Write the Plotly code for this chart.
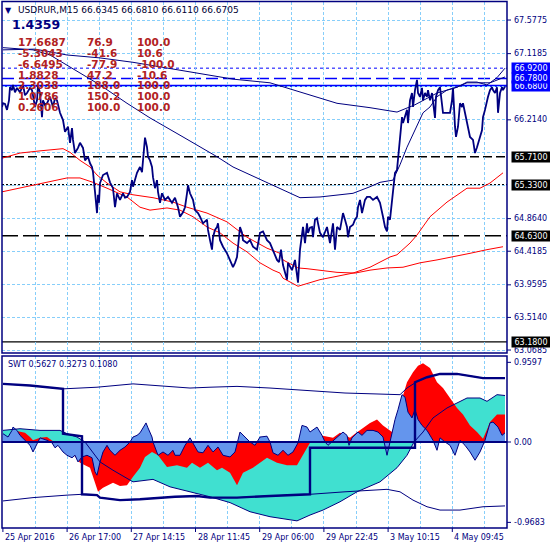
import plotly.graph_objects as go

W = H = 550
FONT = "DejaVu Sans"
NAVY = "#000080"

# ------------------------------------------------------------------ data
# main pane: close price (bar index -> price)
PRICE_BAR = [2, 3, 5, 7, 9, 10, 12, 13, 15, 17,
             20, 23, 25, 27, 30, 32, 35, 37, 38, 40,
             42, 43, 45, 47, 50, 53, 55, 57, 60, 63,
             65, 68, 70, 72, 73, 75, 78, 80, 83, 85,
             88, 90, 92, 93, 95, 97, 98, 99, 100, 103,
             107, 110, 113, 115, 117, 120, 123, 125, 127, 130,
             132, 133, 137, 140, 142, 143, 145, 147, 148, 150,
             152, 153, 155, 157, 158, 160, 162, 165, 168, 172,
             175, 178, 180, 183, 185, 187, 188, 190, 193, 195,
             198, 200, 203, 207, 208, 210, 212, 213, 215, 217,
             218, 220, 223, 227, 230, 233, 235, 237, 240, 242,
             243, 247, 250, 253, 257, 260, 263, 267, 270, 273,
             277, 279, 281, 283, 287, 288, 292, 295, 297, 298,
             300, 302, 303, 305, 307, 308, 310, 312, 313, 315,
             317, 318, 320, 323, 327, 330, 333, 335, 337, 340,
             343, 345, 347, 348, 350, 353, 355, 357, 358, 360,
             362, 365, 367, 370, 373, 377, 380, 383, 385, 387,
             388, 390, 392, 394, 395, 397, 398, 400, 402, 403,
             405, 407, 408, 410, 412, 413, 415, 417, 418, 420,
             422, 423, 425, 427, 428, 430, 432, 433, 435, 436,
             438, 440, 442, 443, 450, 452, 453, 454, 455, 456,
             458, 460, 462, 463, 465, 467, 468, 470, 473, 475,
             477, 478, 480, 482, 483, 485, 487, 488, 490, 492,
             493, 495, 497, 498, 500, 502, 503, 505]
PRICE_CLOSE = [66.39, 66.44, 66.43, 66.35, 66.48, 66.66, 66.62, 66.69, 66.59, 66.65,
               66.59, 66.69, 66.55, 66.58, 66.65, 66.62, 66.39, 66.48, 66.69, 66.58,
               66.25, 66.48, 66.42, 66.44, 66.53, 66.39, 66.51, 66.48, 66.31, 66.21,
               66.05, 66.12, 65.90, 66.10, 65.94, 65.76, 65.83, 65.90, 65.83, 65.66,
               65.71, 65.62, 65.57, 65.50, 65.23, 64.94, 65.19, 65.08, 65.35, 65.46,
               65.49, 65.36, 65.28, 65.02, 65.21, 65.12, 65.21, 65.15, 65.16, 65.23,
               65.39, 65.30, 65.49, 65.57, 65.50, 65.66, 65.97, 65.84, 65.71, 65.66,
               65.57, 65.43, 65.28, 65.39, 65.23, 65.08, 65.21, 65.12, 65.16, 65.08,
               65.15, 65.02, 64.89, 64.95, 65.02, 65.21, 65.32, 65.21, 65.12, 64.98,
               64.94, 64.89, 64.80, 64.85, 64.71, 64.57, 64.44, 64.61, 64.71, 64.75,
               64.80, 64.57, 64.48, 64.39, 64.30, 64.20, 64.26, 64.34, 64.75, 64.67,
               64.57, 64.53, 64.57, 64.48, 64.44, 64.67, 64.69, 64.57, 64.53, 64.44,
               64.30, 64.27, 64.44, 64.23, 64.03, 64.26, 64.16, 64.30, 64.03, 63.99,
               64.44, 64.67, 64.75, 64.53, 64.80, 64.67, 64.74, 64.75, 64.61, 64.85,
               64.87, 64.80, 64.67, 64.61, 64.75, 64.53, 64.80, 64.44, 64.75, 64.71,
               64.94, 64.85, 64.75, 64.61, 64.75, 64.78, 64.85, 64.89, 65.02, 65.12,
               64.94, 65.12, 65.16, 65.16, 65.12, 65.16, 65.08, 64.89, 64.75, 64.69,
               64.89, 64.85, 65.12, 65.30, 65.49, 65.53, 65.66, 65.90, 66.25, 66.17,
               66.25, 66.35, 66.17, 66.48, 66.58, 66.39, 66.62, 66.76, 66.58, 66.53,
               66.65, 66.48, 66.58, 66.53, 66.62, 66.48, 66.58, 66.44, 66.24, 66.53,
               66.62, 66.66, 66.35, 66.31, 66.31, 66.48, 66.65, 66.35, 66.12, 65.98,
               66.12, 66.44, 66.39, 66.44, 66.31, 66.21, 66.12, 65.98, 65.94, 65.76,
               65.84, 65.90, 65.98, 66.07, 66.25, 66.35, 66.48, 66.53, 66.62, 66.66,
               66.62, 66.58, 66.66, 66.31, 66.58, 66.66, 66.62, 66.67]

MA_SLOW_BAR = [3, 35, 67, 100, 133, 167, 200, 233, 270, 303, 337, 370, 397, 415, 437, 457, 467, 480, 490, 505]
MA_SLOW = [67.17, 67.18, 67.10, 67.06, 67.00, 66.92, 66.84, 66.77, 66.72, 66.58,
           66.44, 66.38, 66.32, 66.42, 66.58, 66.66, 66.72, 66.72, 66.72, 66.80]

MA_MID_BAR = [3, 33, 50, 67, 100, 127, 150, 183, 217, 233, 267, 280, 300, 320, 353, 370,
              380, 393, 400, 407, 417, 423, 430, 437, 447, 457, 467, 477, 487, 497, 505]
MA_MID = [67.20, 67.17, 67.10, 66.96, 66.69, 66.44, 66.24, 65.98, 65.71, 65.57, 65.36, 65.28,
          65.15, 65.16, 65.21, 65.30, 65.36, 65.39, 65.60, 65.84, 66.12, 66.31, 66.39, 66.53,
          66.62, 66.66, 66.73, 66.73, 66.69, 66.79, 66.92]

RED_A_BAR = [2, 20, 40, 63, 70, 80, 90, 97, 107, 120,
             133, 153, 173, 187, 207, 227, 247, 267, 280, 283,
             298, 307, 337, 355, 370, 387, 403, 420, 437, 453,
             470, 487, 503]
RED_A = [65.69, 65.76, 65.79, 65.82, 65.77, 65.66, 65.57, 65.46, 65.35, 65.23,
         65.19, 65.15, 65.09, 65.02, 64.94, 64.82, 64.61, 64.46, 64.39, 64.30,
         64.19, 64.18, 64.13, 64.12, 64.16, 64.19, 64.20, 64.26, 64.30, 64.34,
         64.39, 64.44, 64.48]

RED_B_BAR = [2, 33, 67, 80, 93, 107, 127, 140, 150, 167,
             180, 193, 207, 220, 233, 247, 260, 273, 280, 283,
             298, 320, 353, 370, 390, 397, 410, 417, 430, 447,
             457, 467, 480, 490, 503]
RED_B = [65.23, 65.32, 65.42, 65.42, 65.36, 65.28, 65.16, 65.02, 64.98, 65.01,
         64.98, 64.89, 64.75, 64.67, 64.53, 64.41, 64.26, 64.16, 64.12, 64.05,
         63.94, 64.03, 64.12, 64.20, 64.34, 64.37, 64.53, 64.64, 64.89, 65.09,
         65.19, 65.28, 65.28, 65.35, 65.49]

LEVELS = [66.92, 66.78, 66.68, 65.71, 65.33, 64.63, 63.18]
BID = 66.6705
Y_GRID = [67.5775, 67.1185, 66.6660, 66.2140, 65.7640, 65.3140, 64.8640, 64.4185, 63.9595, 63.5140, 63.0685]
Y_LABELS = [67.5775, 67.1185, 66.2140, 64.8640, 64.4185, 63.9595, 63.5140, 63.0685]

# lower pane: SWT indicator
SIG_BAR = [3, 20, 40, 60, 67, 77, 85, 100, 113, 130,
           133, 153, 170, 190, 210, 230, 250, 270, 297, 310,
           323, 340, 357, 380, 397, 407, 414, 423, 433, 447,
           457, 467, 480, 487, 497, 505]
SIG = [0.14, 0.16, 0.14, 0.14, 0.10, 0.06, 0.00, -0.24, -0.34, -0.46,
       -0.48, -0.45, -0.54, -0.60, -0.66, -0.73, -0.84, -0.90, -0.95, -0.88,
       -0.82, -0.72, -0.60, -0.48, -0.31, -0.16, 0.00, 0.12, 0.29, 0.41,
       0.47, 0.53, 0.53, 0.49, 0.57, 0.56]

RED_BAR = [3, 15, 18, 25, 30, 33, 40, 47, 53, 60,
           70, 75, 80, 90, 95, 98, 103, 113, 120, 127,
           133, 140, 145, 152, 158, 167, 177, 187, 192, 200,
           208, 217, 222, 230, 237, 243, 253, 267, 277, 287,
           297, 303, 310, 320, 327, 333, 340, 350, 355, 360,
           370, 377, 383, 392, 397, 402, 407, 413, 418, 423,
           430, 437, 443, 450, 457, 463, 470, 477, 483, 487,
           490, 497, 505]
RED_V = [0.0, 0.06, 0.13, 0.11, 0.06, 0.02, 0.05, 0.06, 0.01, -0.04,
         -0.10, -0.18, -0.25, -0.31, -0.49, -0.60, -0.55, -0.49, -0.53, -0.52,
         -0.42, -0.31, -0.18, -0.12, -0.16, -0.30, -0.28, -0.31, -0.25, -0.31,
         -0.25, -0.34, -0.31, -0.37, -0.52, -0.37, -0.31, -0.19, -0.25, -0.28,
         -0.28, -0.16, -0.01, 0.08, 0.06, 0.05, 0.11, 0.05, 0.10, 0.14,
         0.23, 0.27, 0.20, 0.12, 0.33, 0.53, 0.72, 0.84, 0.92, 0.95,
         0.89, 0.72, 0.65, 0.53, 0.41, 0.33, 0.20, 0.12, 0.04, 0.15,
         0.24, 0.33, 0.33]

BLUE_BAR = [3, 8, 12, 13, 17, 20, 25, 30, 33, 37,
            40, 47, 52, 55, 58, 63, 67, 72, 75, 78,
            82, 87, 92, 95, 97, 100, 103, 107, 110, 115,
            120, 125, 130, 133, 137, 140, 143, 146, 148, 152,
            153, 158, 163, 168, 173, 175, 180, 185, 190, 193,
            198, 203, 208, 213, 218, 223, 230, 235, 240, 245,
            250, 255, 260, 267, 270, 273, 278, 283, 288, 293,
            298, 302, 307, 310, 317, 322, 325, 328, 333, 338,
            343, 347, 349, 352, 358, 362, 367, 373, 378, 383,
            387, 390, 395, 398, 402, 405, 408, 412, 415, 418,
            422, 427, 433, 437, 440, 445, 450, 455, 460, 465,
            470, 475, 480, 485, 490, 493, 498, 502, 505]
BLUE_V = [0.10, 0.06, 0.14, 0.18, 0.14, 0.08, 0.02, -0.04, -0.12, -0.01,
          0.05, 0.02, -0.01, -0.07, -0.04, -0.12, -0.16, -0.19, -0.16, -0.24,
          -0.18, -0.16, -0.19, -0.36, -0.40, -0.24, -0.12, -0.04, -0.10, -0.16,
          -0.10, -0.06, 0.00, 0.06, 0.08, 0.11, 0.17, 0.23, 0.17, 0.06,
          0.00, -0.16, -0.12, -0.16, -0.10, -0.16, -0.16, -0.04, 0.05, -0.01,
          -0.12, -0.13, -0.04, -0.12, -0.06, -0.16, -0.18, -0.12, 0.12, 0.06,
          0.00, -0.04, 0.06, 0.07, 0.00, -0.13, -0.16, -0.10, -0.16, -0.12,
          -0.01, 0.20, 0.18, 0.12, 0.18, 0.08, 0.00, -0.04, 0.01, 0.06,
          0.12, 0.08, -0.04, 0.05, 0.12, 0.08, 0.14, 0.14, 0.12, 0.06,
          -0.16, 0.00, 0.27, 0.39, 0.57, 0.54, 0.36, 0.29, 0.39, 0.27,
          0.20, 0.14, 0.02, -0.10, 0.05, 0.00, -0.04, -0.16, 0.02, -0.04,
          -0.12, -0.22, -0.12, 0.02, 0.23, 0.24, 0.18, 0.08, 0.11]

BAND_UP_BAR = [3, 30, 63, 80, 97, 133, 175, 190, 210, 237, 270, 320, 345, 373, 400, 407, 416, 427, 440, 457, 483, 505]
BAND_UP = [0.70, 0.68, 0.64, 0.65, 0.66, 0.70, 0.66, 0.65, 0.66, 0.67, 0.65,
           0.61, 0.59, 0.58, 0.57, 0.65, 0.72, 0.78, 0.82, 0.82, 0.77, 0.77]
BAND_LO_BAR = [3, 33, 67, 82, 97, 100, 120, 140, 175, 197, 210, 237, 270, 310, 345, 367,
               387, 400, 413, 427, 440, 460, 483, 505]
BAND_LO = [-0.71, -0.67, -0.64, -0.63, -0.64, -0.67, -0.70, -0.69, -0.66, -0.65, -0.67, -0.67,
           -0.65, -0.63, -0.60, -0.58, -0.57, -0.60, -0.70, -0.78, -0.82, -0.82, -0.78, -0.77]
STEP_BAR = [3, 30, 63, 63, 82, 82, 97, 100, 120, 140, 175, 197, 210, 237, 270, 310, 310,
            415, 415, 427, 440, 457, 483, 505]
STEP_V = [0.70, 0.68, 0.64, 0.10, 0.07, -0.63, -0.64, -0.67, -0.70, -0.69, -0.66, -0.65,
          -0.67, -0.67, -0.65, -0.63, -0.07, -0.07, 0.72, 0.78, 0.82, 0.82, 0.77, 0.77]
SWT_TICKS = [0.9597, 0.0, -0.9683]
SWT_TICK_TEXT = ["0.9597", "0.00", "-0.9683"]

X_GRID = [2.9, 35.0, 67.1, 99.2, 131.3, 163.4, 195.5, 227.6, 259.7, 291.8,
          323.9, 356.0, 388.1, 420.2, 452.3, 484.4]
X_LABEL_BAR = [2.9, 67.1, 131.3, 195.5, 259.7, 323.9, 388.1, 452.3]
X_LABELS = ["25 Apr 2016", "26 Apr 17:00", "27 Apr 14:15", "28 Apr 11:45",
            "29 Apr 06:00", "29 Apr 22:45", "3 May 10:15", "4 May 09:45"]

TITLE = "USDRUR,M15 66.6345 66.6810 66.6110 66.6705"
BIG_VALUE = "1.4359"
TABLE_COL1 = ["17.6687", "-5.3043", "-6.6495", "1.8828", "2.3038", "1.0786", "0.2606"]
TABLE_COL2 = ["76.9", "-41.6", "-77.9", "47.2", "188.0", "150.2", "100.0"]
TABLE_COL3 = ["100.0", "10.6", "-100.0", "-10.6", "100.0", "100.0", "100.0"]
SWT_TEXT = "SWT 0.5627 0.3273 0.1080"

# ------------------------------------------------------------------ figure
fig = go.Figure()


def line_trace(x, y, color, width, axis=1, dash=None):
    return go.Scatter(x=x, y=y, mode="lines", hoverinfo="skip",
                      line=dict(color=color, width=width, dash=dash),
                      xaxis="x" if axis == 1 else "x2",
                      yaxis="y" if axis == 1 else "y2", showlegend=False)


# main pane
fig.add_trace(line_trace(MA_SLOW_BAR, MA_SLOW, NAVY, 1))
fig.add_trace(line_trace(MA_MID_BAR, MA_MID, NAVY, 1))
fig.add_trace(line_trace(RED_A_BAR, RED_A, "#FF0000", 1))
fig.add_trace(line_trace(RED_B_BAR, RED_B, "#FF0000", 1))
fig.add_trace(line_trace(PRICE_BAR, PRICE_CLOSE, NAVY, 1.8))

# lower pane fills
for bars, vals, col in [(SIG_BAR, SIG, "#40E0D0"), (RED_BAR, RED_V, "#FF0000")]:
    fig.add_trace(go.Scatter(x=bars, y=vals, mode="lines", fill="tozeroy", fillcolor=col,
                             line=dict(width=0, color=col), xaxis="x2", yaxis="y2",
                             hoverinfo="skip", showlegend=False))
fig.add_trace(go.Scatter(x=BLUE_BAR, y=BLUE_V, mode="lines", fill="tozeroy", fillcolor="#6495ED",
                         line=dict(width=1, color=NAVY), xaxis="x2", yaxis="y2",
                         hoverinfo="skip", showlegend=False))
fig.add_trace(line_trace(SIG_BAR, SIG, NAVY, 1, axis=2))
fig.add_trace(line_trace(BAND_UP_BAR, BAND_UP, NAVY, 1, axis=2))
fig.add_trace(line_trace(BAND_LO_BAR, BAND_LO, NAVY, 1, axis=2))
fig.add_trace(line_trace(STEP_BAR, STEP_V, NAVY, 2.4, axis=2))

GRID = dict(showgrid=True, gridcolor="#87CEFA", gridwidth=1, griddash="3px,2px",
            showticklabels=False, ticks="", zeroline=False, showline=False)
XD = [2 / W, 507 / W]
fig.update_layout(
    width=W, height=H, margin=dict(l=0, r=0, t=0, b=0), autosize=False,
    paper_bgcolor="white", plot_bgcolor="white", showlegend=False,
    xaxis=dict(domain=XD, range=[2, 507], anchor="y", tickvals=X_GRID, **GRID),
    yaxis=dict(domain=[1 - 353 / H, 1 - 2 / H], range=[63.028, 67.824], anchor="x",
               tickvals=Y_GRID, **GRID),
    xaxis2=dict(domain=XD, range=[2, 507], anchor="y2", matches="x", tickvals=X_GRID, **GRID),
    yaxis2=dict(domain=[1 - 528 / H, 1 - 356 / H], range=[-1.036, 1.036], anchor="x2",
                showgrid=False, showticklabels=False, ticks="", zeroline=False, showline=False),
)

shapes = []
# price level lines
LEVEL_STYLE = {
    66.92: ("#0000FF", 1, "3px,3px"),
    66.78: ("#0000FF", 1.5, "12px,5px"),
    66.68: ("#0000FF", 2, "solid"),
    65.71: ("#000000", 1.5, "9px,4px"),
    65.33: ("#000000", 1.2, "2px,2px"),
    64.63: ("#000000", 1.5, "16px,5px"),
    63.18: ("#000000", 1.2, "solid"),
}
shapes.append(dict(type="line", xref="paper", yref="y", x0=XD[0], x1=XD[1], y0=BID, y1=BID,
                   line=dict(color="#87CEFA", width=1), layer="between"))
for lv in LEVELS:
    c, w_, d = LEVEL_STYLE[lv]
    shapes.append(dict(type="line", xref="paper", yref="y", x0=XD[0], x1=XD[1], y0=lv, y1=lv,
                       line=dict(color=c, width=w_, dash=d), layer="between"))
# zero line of SWT
shapes.append(dict(type="line", xref="paper", yref="y2", x0=XD[0], x1=XD[1], y0=0, y1=0,
                   line=dict(color=NAVY, width=2), layer="above"))
# pane frames
shapes.append(dict(type="rect", xref="paper", yref="paper", x0=2 / W, x1=507 / W,
                   y0=1 - 353 / H, y1=1 - 1.5 / H, line=dict(color=NAVY, width=1.5), layer="above"))
shapes.append(dict(type="rect", xref="paper", yref="paper", x0=2 / W, x1=507 / W,
                   y0=1 - 528 / H, y1=1 - 356 / H, line=dict(color=NAVY, width=1.5), layer="above"))
# right tick marks
for v in Y_LABELS:
    shapes.append(dict(type="line", xref="paper", yref="y", x0=507 / W, x1=511 / W, y0=v, y1=v,
                       line=dict(color=NAVY, width=1)))
for v in SWT_TICKS:
    shapes.append(dict(type="line", xref="paper", yref="y2", x0=507 / W, x1=511 / W, y0=v, y1=v,
                       line=dict(color=NAVY, width=1)))
# bottom tick marks
for b in X_LABEL_BAR:
    shapes.append(dict(type="line", xref="x2", yref="paper", x0=b, x1=b,
                       y0=1 - 528 / H, y1=1 - 532 / H, line=dict(color=NAVY, width=1)))

ann = []


def txt(text, x, y, xref="paper", yref="paper", size=8, color=NAVY, **kw):
    d = dict(text=text, x=x, y=y, xref=xref, yref=yref, xanchor="left", yanchor="middle",
             showarrow=False, font=dict(family=FONT, size=size, color=color), borderpad=0)
    d.update(kw)
    ann.append(d)


# header
txt("▼", 4 / W, 1 - 10 / H, size=8)
txt(TITLE, 17 / W, 1 - 10 / H, size=9, color="#000033")
txt("<b>" + BIG_VALUE + "</b>", 11 / W, 1 - 24 / H, size=12.5)
row_y = [42, 53, 63.5, 74.5, 85, 96, 107]
for i in range(len(TABLE_COL1)):
    for col, xx in ((TABLE_COL1, 16.5), (TABLE_COL2, 85.5), (TABLE_COL3, 135.5)):
        txt("<b>" + col[i] + "</b>", xx / W, 1 - row_y[i] / H, size=10.5, color="#B22222")
txt(SWT_TEXT, 7 / W, 1 - 364 / H, size=8)

# right axis labels
for v in Y_LABELS:
    txt(f"{v:.4f}", 513 / W, v, yref="y", size=8)
for v, t in zip(SWT_TICKS, SWT_TICK_TEXT):
    txt(t, 513 / W, v, yref="y2", size=8)

# level boxes (later ones drawn on top)
for lv in [66.68, 66.78, 66.92]:
    txt(f"{lv:.4f}", 511 / W, lv, yref="y", size=8, color="white", bgcolor="#0000FF",
        width=38, height=10, align="center")
for lv in [65.71, 65.33, 64.63, 63.18]:
    txt(f"{lv:.4f}", 511 / W, lv, yref="y", size=8, color="white", bgcolor="#000000",
        width=38, height=10, align="center")

# time labels
for b, t in zip(X_LABEL_BAR, X_LABELS):
    txt(t, b + 1, 1 - 537 / H, xref="x2", size=8)

fig.update_layout(shapes=shapes, annotations=ann)
fig.write_html("out.html", config={"displayModeBar": False, "staticPlot": True},
               post_script="document.body.style.margin='0';document.body.style.overflow='hidden';")
